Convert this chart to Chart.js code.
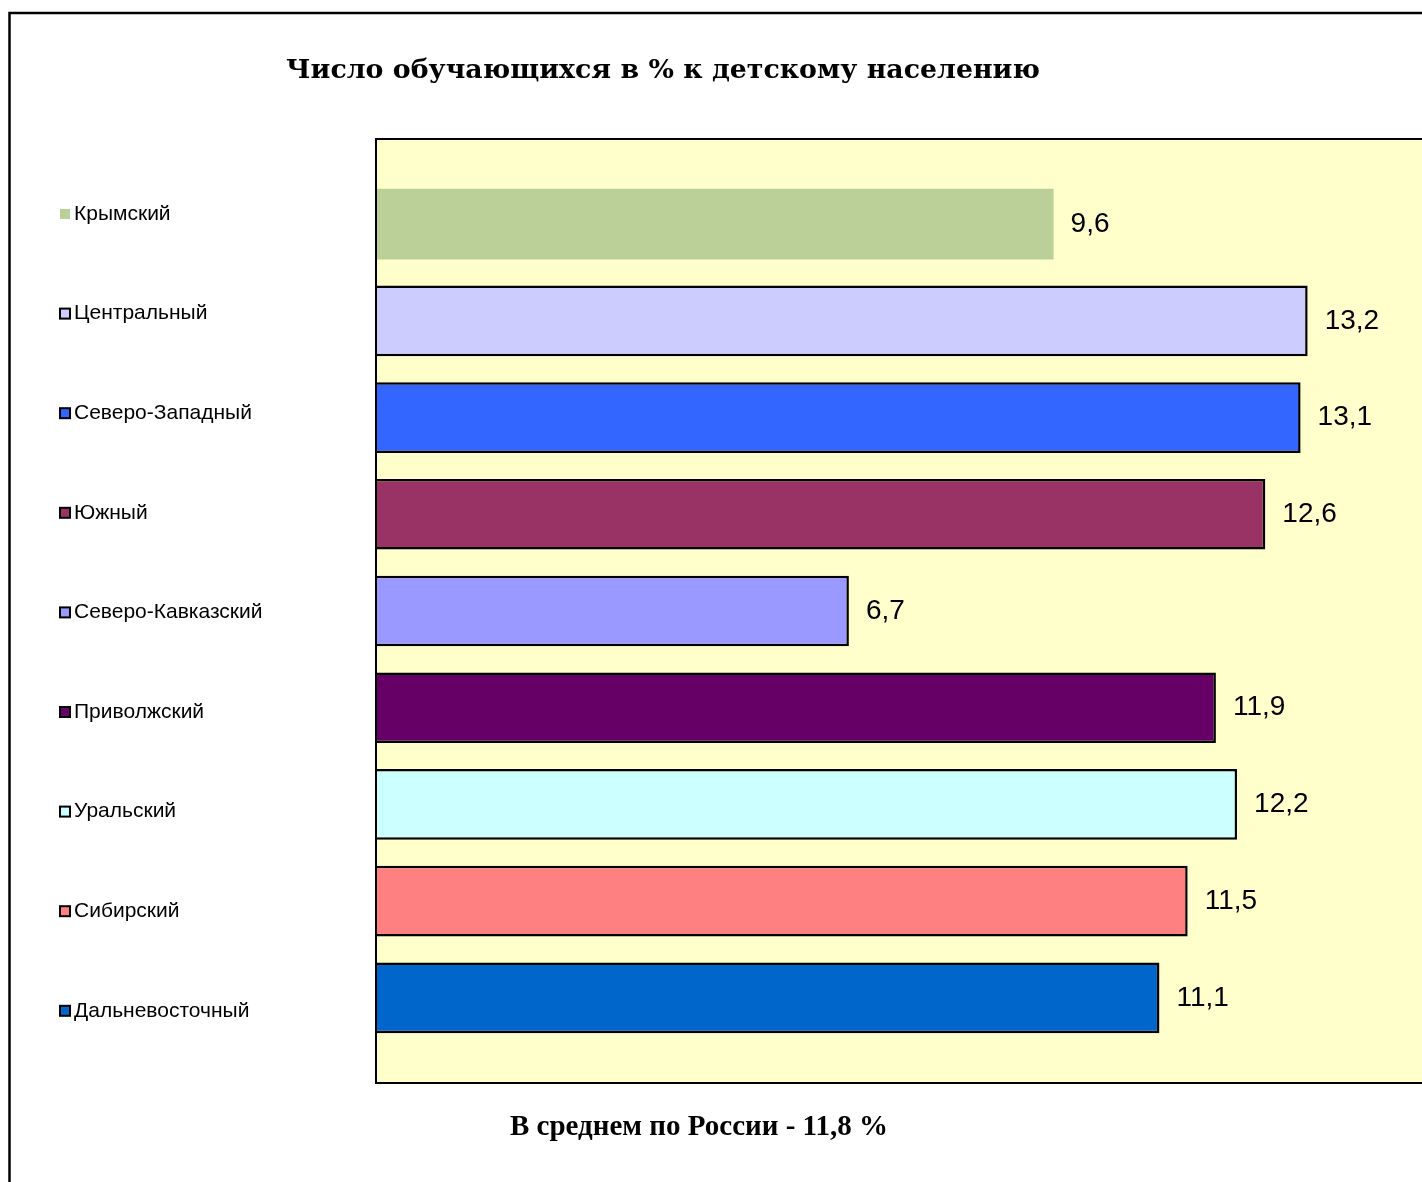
<!DOCTYPE html>
<html>
<head>
<meta charset="utf-8">
<script src="https://cdn.jsdelivr.net/npm/chart.js@4"></script>
<style>
  html, body { margin: 0; padding: 0; background: #fff; overflow: hidden; }
  #wrap { width: 1422px; height: 1182px; }
</style>
</head>
<body>
<div id="wrap"><canvas id="chart"></canvas></div>
<script>
// данные
const regions = ['Крымский', 'Центральный', 'Северо-Западный', 'Южный', 'Северо-Кавказский',
  'Приволжский', 'Уральский', 'Сибирский', 'Дальневосточный'];
const values = [9.6, 13.2, 13.1, 12.6, 6.7, 11.9, 12.2, 11.5, 11.1];
const fills = ['#BBCF98', '#CCCCFF', '#3366FF', '#993366', '#9999FF', '#660066', '#CCFFFF', '#FF8080', '#0066CC'];
const bordered = [false, true, true, true, true, true, true, true, true];
const titleText = 'Число обучающихся в % к детскому населению';
const footerText = 'В среднем по России - 11,8 %';

// фон, рамка, заголовки
const framePlugin = {
  id: 'frame',
  beforeDraw(chart) {
    const { ctx, chartArea: a } = chart;
    ctx.save();
    ctx.fillStyle = '#fff';
    ctx.fillRect(0, 0, chart.width, chart.height);
    ctx.fillStyle = '#FFFFCC';
    ctx.fillRect(a.left, a.top, a.right - a.left, a.bottom - a.top);
    ctx.restore();
  },
  afterDraw(chart) {
    const { ctx, chartArea: a } = chart;
    ctx.save();
    // внешняя рамка
    ctx.strokeStyle = '#000';
    ctx.lineWidth = 2.5;
    ctx.beginPath();
    ctx.moveTo(9.5, chart.height);
    ctx.lineTo(9.5, 13);
    ctx.lineTo(chart.width, 13);
    ctx.stroke();
    // рамка области построения
    ctx.lineWidth = 2;
    ctx.beginPath();
    ctx.moveTo(chart.width, a.top);
    ctx.lineTo(a.left, a.top);
    ctx.lineTo(a.left, a.bottom);
    ctx.lineTo(chart.width, a.bottom);
    ctx.stroke();
    // заголовок
    ctx.fillStyle = '#000';
    ctx.textAlign = 'center';
    ctx.textBaseline = 'middle';
    let size = 28;
    ctx.font = `bold ${size}px "DejaVu Serif"`;
    size = size * 754 / ctx.measureText(titleText).width;
    ctx.font = `bold ${size}px "DejaVu Serif"`;
    ctx.fillText(titleText, 663, 71);
    // подпись снизу
    ctx.font = 'bold 29px "Liberation Serif"';
    ctx.fillText(footerText, 699, 1128);
    ctx.restore();
  }
};

// подписи значений
const valueLabels = {
  id: 'valueLabels',
  afterDatasetsDraw(chart) {
    const { ctx } = chart;
    ctx.save();
    ctx.fillStyle = '#000';
    ctx.font = '28px "Liberation Sans"';
    ctx.textAlign = 'left';
    ctx.textBaseline = 'middle';
    chart.data.datasets.forEach((ds, i) => {
      const bar = chart.getDatasetMeta(i).data[0];
      ctx.fillText(String(ds.data[0]).replace('.', ','), bar.x + 17, bar.y);
    });
    ctx.restore();
  }
};

// легенда слева
const sideLegend = {
  id: 'sideLegend',
  afterDraw(chart) {
    const { ctx } = chart;
    ctx.save();
    ctx.font = '21px "Liberation Sans"';
    ctx.textAlign = 'left';
    ctx.textBaseline = 'middle';
    chart.data.datasets.forEach((ds, i) => {
      const y = 214 + i * 99.6;
      ctx.fillStyle = ds.backgroundColor;
      ctx.fillRect(60, y - 5, 10, 10);
      if (ds.borderWidth) {
        ctx.strokeStyle = '#000';
        ctx.lineWidth = 2;
        ctx.strokeRect(60, y - 5, 10, 10);
      }
      ctx.fillStyle = '#000';
      ctx.fillText(ds.label, 74, y);
    });
    ctx.restore();
  }
};

new Chart(document.getElementById('chart'), {
  type: 'bar',
  data: {
    labels: [''],
    datasets: regions.map((r, i) => ({
      label: r,
      data: [values[i]],
      backgroundColor: fills[i],
      borderColor: '#000',
      borderWidth: bordered[i] ? 2.5 : 0,
      categoryPercentage: 0.922,
      barPercentage: 0.73
    }))
  },
  options: {
    indexAxis: 'y',
    responsive: true,
    maintainAspectRatio: false,
    animation: false,
    layout: { padding: { left: 376, top: 139, right: 0, bottom: 99 } },
    plugins: { legend: { display: false }, tooltip: { enabled: false } },
    scales: {
      x: { display: false, min: 0, max: 14.82 },
      y: { display: false }
    }
  },
  plugins: [framePlugin, valueLabels, sideLegend]
});
</script>
</body>
</html>
